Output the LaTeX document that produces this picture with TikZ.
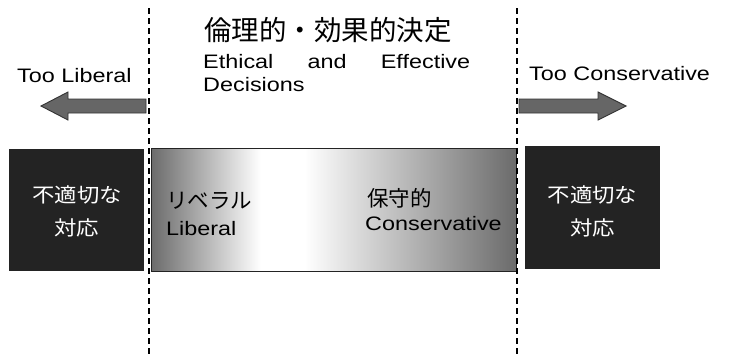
\documentclass[tikz,border=0pt]{standalone}
\usepackage{fontspec}
\setmainfont{Liberation Sans}[FakeStretch=1.2]
\newfontfamily\jp{Noto Sans CJK JP}
\newfontfamily\jpw{Noto Sans CJK JP}[FakeStretch=1.12]
\definecolor{dk}{gray}{0.42}
\definecolor{boxbk}{HTML}{232323}
\definecolor{arrfill}{HTML}{666666}
\definecolor{arrline}{HTML}{333333}
\pgfdeclarehorizontalshading{libcons}{100bp}{color(0bp)=(dk); color(25bp)=(dk); color(40bp)=(white); color(46bp)=(white); color(75bp)=(dk); color(100bp)=(dk)}
\begin{document}
\begin{tikzpicture}[x=1pt,y=-1pt,
  lat/.style={inner sep=0pt, font=\fontsize{19.5}{23}\selectfont},
  jpin/.style={inner sep=0pt, font=\jp\fontsize{21.5}{24}\selectfont},
  bktext/.style={inner sep=0pt, text=white, align=center, font=\jpw\fontsize{20}{33}\selectfont},
  bkbox/.style={fill=boxbk, inner sep=0pt, outer sep=0pt, anchor=north west},
  fatarrow/.style={fill=arrfill, draw=arrline, line width=0.9pt, line join=miter},
  divider/.style={draw=black, line width=1.4pt, dash pattern=on 6pt off 4pt}]
\useasboundingbox (0,0) rectangle (731,354);

% boxes
\node[bkbox, minimum width=135pt, minimum height=122pt] (lbox) at (9,149) {};
\node[bkbox, minimum width=135pt, minimum height=123pt] (rbox) at (525,146) {};
\node[draw=boxbk, line width=1pt, shading=libcons, minimum width=365pt, minimum height=123pt,
      inner sep=0pt, outer sep=0pt, anchor=north west] (mid) at (151,148) {};

% box texts
\node[bktext] (ltxt) at (77,211.5) {不適切な\\対応};
\node[bktext] (rtxt) at (592.5,211) {不適切な\\対応};
\node[jpin, anchor=base west] (libj) at (166,208) {リベラル};
\node[lat, anchor=base west] (libe) at (166,235) {Liberal};
\node[jpin, anchor=base west] (conj) at (367,206) {保守的};
\node[lat, anchor=base west] (cone) at (365,230) {Conservative};

% top texts
\node[inner sep=0pt, font=\jp\fontsize{27.5}{30}\selectfont] (title) at (328,30) {倫理的・効果的決定};
\node[lat, anchor=base west] (eth) at (203,68) {\hbox to 267pt{Ethical\hfill and\hfill Effective}};
\node[lat, anchor=base west] (dec) at (203,91) {Decisions};
\node[lat, anchor=base west] (tlib) at (17,82) {Too Liberal};
\node[lat, anchor=base west] (tcon) at (529,80) {Too Conservative};

% arrows
\draw[fatarrow] (146,99) -- (68,99) -- (68,92) -- (41,106) -- (68,120) -- (68,113) -- (146,113) -- cycle;
\draw[fatarrow] (519,99) -- (598,99) -- (598,92) -- (626,106) -- (598,120) -- (598,113) -- (519,113) -- cycle;

% dividers
\coordinate (dlt) at (149,8);
\coordinate (dlb) at (149,354);
\coordinate (drt) at (517,8);
\coordinate (drb) at (517,354);
\draw[divider] (dlt) -- (dlb);
\draw[divider] (drt) -- (drb);
\end{tikzpicture}
\end{document}
